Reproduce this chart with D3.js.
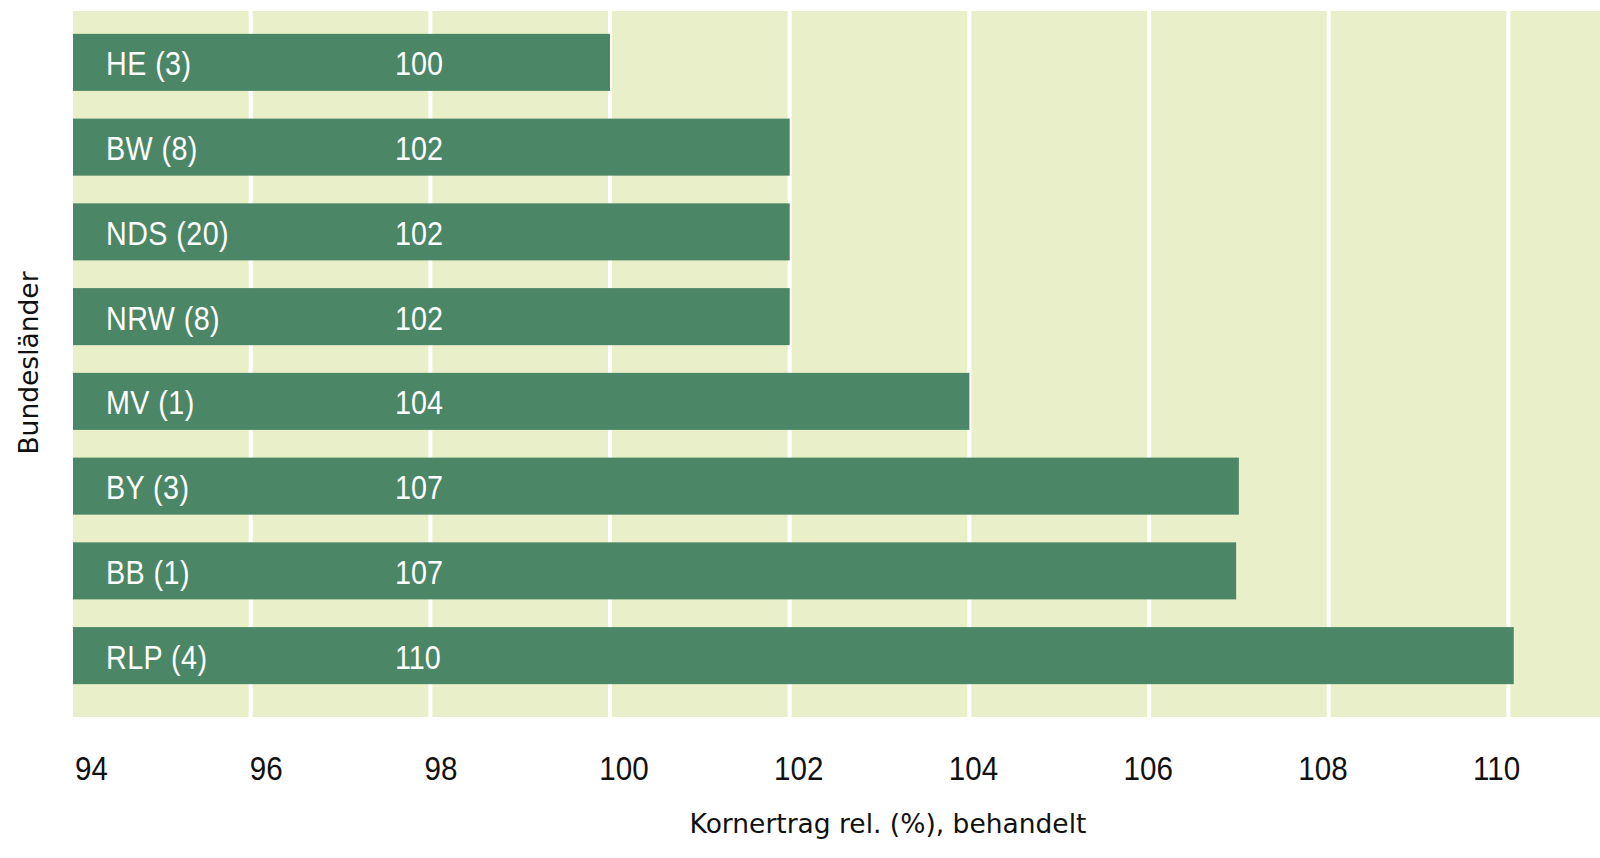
<!DOCTYPE html>
<html>
<head>
<meta charset="utf-8">
<script src="https://cdn.jsdelivr.net/npm/d3@7"></script>
<style>
  body { margin: 0; background: #fff; }
  svg { display: block; }
</style>
</head>
<body>
<svg width="1600" height="858"></svg>
<script>
const states = ['HE (3)', 'BW (8)', 'NDS (20)', 'NRW (8)', 'MV (1)', 'BY (3)', 'BB (1)', 'RLP (4)'];
const yieldValues = [100, 102, 102, 102, 104, 107, 106.97, 110.06];
const valueLabels = ['100', '102', '102', '102', '104', '107', '107', '110'];
const tickValues = [94, 96, 98, 100, 102, 104, 106, 108, 110];

function plotChart() {
  const svg = d3.select('svg');
  const narrow = '"Liberation Sans", Arial, sans-serif';
  const squeeze = 0.87; // no condensed face installed, so squeeze horizontally
  const regular = '"DejaVu Sans", "Noto Sans", sans-serif';
  const top = 11;
  const bottom = 717;

  const xScale = d3.scaleLinear()
      .domain([94, 111.02])
      .range([71, 1600]);
  // the tick labels of the original sit on their own, slightly tighter spacing
  const labelScale = d3.scaleLinear()
      .domain([94, 110])
      .range([75, 1473]);
  const yScale = d3.scaleBand()
      .domain(states)
      .range([20, 698])
      .paddingInner(0.327)
      .paddingOuter(0.1635);

  svg.append('rect')
      .attr('x', xScale(94))
      .attr('y', top)
      .attr('width', xScale.range()[1] - xScale(94))
      .attr('height', bottom - top)
      .attr('fill', '#e9f0c9');

  svg.append('g')
      .attr('class', 'grid')
      .selectAll('line')
      .data(tickValues)
      .join('line')
      .attr('x1', d => xScale(d))
      .attr('x2', d => xScale(d))
      .attr('y1', top)
      .attr('y2', bottom)
      .attr('stroke', '#fff')
      .attr('stroke-width', 4);

  const rows = svg.append('g')
      .attr('class', 'bars')
      .selectAll('g')
      .data(states.map((s, i) => ({ name: s, value: yieldValues[i], label: valueLabels[i] })))
      .join('g')
      .attr('transform', d => `translate(0, ${yScale(d.name)})`);

  rows.append('rect')
      .attr('x', xScale(94) + 2)
      .attr('width', d => xScale(d.value) - xScale(94) - 2)
      .attr('height', yScale.bandwidth())
      .attr('fill', '#4b8666');

  const textY = yScale.bandwidth() / 2 + 13;

  rows.append('text')
      .attr('transform', `translate(106, ${textY}) scale(${squeeze}, 1)`)
      .attr('fill', '#fff')
      .style('font-family', narrow)
      .style('font-size', '33px')
      .style('letter-spacing', '0.5px')
      .text(d => d.name);

  rows.append('text')
      .attr('transform', `translate(395, ${textY}) scale(${squeeze}, 1)`)
      .attr('fill', '#fff')
      .style('font-family', narrow)
      .style('font-size', '33px')
      .text(d => d.label);

  svg.append('g')
      .attr('class', 'ticks')
      .selectAll('text')
      .data(tickValues)
      .join('text')
      .attr('transform', d => `translate(${labelScale(d)}, 780) scale(${squeeze}, 1)`)
      .attr('fill', '#111')
      .style('font-family', narrow)
      .style('font-size', '34px')
      .text(d => d);

  svg.append('text')
      .attr('x', 888)
      .attr('y', 833)
      .attr('text-anchor', 'middle')
      .attr('fill', '#111')
      .style('font-family', regular)
      .style('font-size', '26.5px')
      .text('Kornertrag rel. (%), behandelt');

  svg.append('text')
      .attr('transform', 'translate(38, 363) rotate(-90)')
      .attr('text-anchor', 'middle')
      .attr('fill', '#111')
      .style('font-family', regular)
      .style('font-size', '26.5px')
      .text('Bundesländer');
}

plotChart();
</script>
</body>
</html>
